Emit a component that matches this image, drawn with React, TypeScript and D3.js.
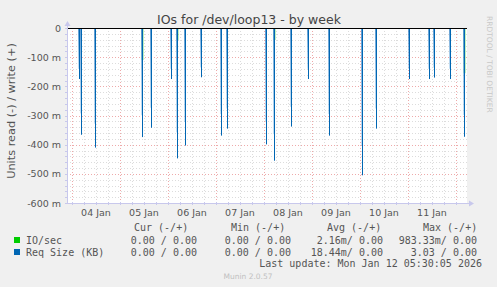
import React from "react";
import * as d3 from "d3";

// Spike times (UTC) and depths in milli-units (read is negative)
const reqTimes = [
  "2026-01-04 03:30", "2026-01-04 04:40", "2026-01-04 11:40",
  "2026-01-05 11:10", "2026-01-05 15:30",
  "2026-01-06 01:40", "2026-01-06 04:40", "2026-01-06 08:40", "2026-01-06 16:40",
  "2026-01-07 02:30", "2026-01-07 05:40",
  "2026-01-08 01:10", "2026-01-08 05:10", "2026-01-08 13:30", "2026-01-08 22:10",
  "2026-01-09 08:30",
  "2026-01-10 01:00", "2026-01-10 08:00",
  "2026-01-11 00:40", "2026-01-11 10:40", "2026-01-11 13:10", "2026-01-11 21:10",
  "2026-01-12 04:10",
];
const reqValues = [
  -175, -366, -410,
  -374, -342,
  -175, -447, -403, -169,
  -369, -345,
  -399, -455, -338, -175,
  -369,
  -505, -345,
  -175, -175, -170, -175,
  -373,
];
const ioTimes = ["2026-01-05 10:50", "2026-01-06 04:30", "2026-01-08 05:00", "2026-01-12 03:50"];
const ioValues = [-110, -41, -41, -155];

const yTicks = [0, -100, -200, -300, -400, -500, -600];
const dayLabels = ["04 Jan", "05 Jan", "06 Jan", "07 Jan", "08 Jan", "09 Jan", "10 Jan", "11 Jan"];
const startTime = "2026-01-03 21:30";
const endTime = "2026-01-12 05:30";

const legendHeaders = ["Cur (-/+)", "Min (-/+)", "Avg (-/+)", "Max (-/+)"];
const legendSeries = ["IO/sec", "Req Size (KB)"];
const legendColors = ["#00cc00", "#0066b3"];
const legendRows = [
  ["0.00 / 0.00", "0.00 / 0.00", "2.16m/ 0.00", "983.33m/ 0.00"],
  ["0.00 / 0.00", "0.00 / 0.00", "18.44m/ 0.00", "3.03 / 0.00"],
];

const parse = d3.utcParse("%Y-%m-%d %H:%M");

export default function App() {
  const W = 497, H = 287;
  const L = 67, R = 467, T = 28, B = 203;
  const x = d3.scaleUtc().domain([parse(startTime)!, parse(endTime)!]).range([L, R]);
  const y = d3.scaleLinear().domain([-600, 0]).range([B, T]);
  const sans = "DejaVu Sans, sans-serif";
  const mono = "DejaVu Sans Mono, monospace";

  const days = d3.utcDay.range(x.domain()[0], x.domain()[1]);
  const sixHours = d3.utcHour.every(6)!.range(x.domain()[0], x.domain()[1]);
  const minorY = d3.range(-600, 1, 20);
  const crisp = (v: number) => Math.round(v) + 0.5;

  return (
    <svg width={W} height={H} style={{ position: "absolute", left: 0, top: 0, background: "#f0f0f0" }}>
      <defs>
        <linearGradient id="band" x1="0" y1="0" x2="0" y2="1">
          <stop offset="0" stopColor="#3f88c8" stopOpacity={0.85} />
          <stop offset="1" stopColor="#8fc0e8" stopOpacity={0.5} />
        </linearGradient>
      </defs>
      <rect x={0} y={0} width={W} height={H} fill="#f0f0f0" />
      <rect x={L} y={T} width={R - L} height={B - T} fill="#ffffff" />
      {/* minor grid */}
      {minorY.map((v) => (
        <line key={"my" + v} x1={L} x2={R} y1={crisp(y(v))} y2={crisp(y(v))} stroke="#dcdcdc" strokeDasharray="1,2" />
      ))}
      {sixHours.map((d, i) => (
        <line key={"mx" + i} x1={crisp(x(d))} x2={crisp(x(d))} y1={T} y2={B} stroke="#dcdcdc" strokeDasharray="1,2" />
      ))}
      {/* major grid */}
      {yTicks.map((v) => (
        <line key={"Y" + v} x1={L} x2={R} y1={crisp(y(v))} y2={crisp(y(v))} stroke="#eeaaaa" strokeDasharray="1,2" />
      ))}
      {days.map((d, i) => (
        <line key={"X" + i} x1={crisp(x(d))} x2={crisp(x(d))} y1={T} y2={B} stroke="#eeaaaa" strokeDasharray="1,2" />
      ))}
      {/* IO/sec series */}
      {ioTimes.map((t, i) => {
        const px = crisp(x(parse(t)!));
        return <line key={"io" + i} x1={px} x2={px} y1={y(0)} y2={y(ioValues[i])} stroke="#00cc00" strokeWidth={1.5} />;
      })}
      {/* Req size series */}
      {reqTimes.map((t, i) => {
        const px = Math.round(x(parse(t)!));
        return (
          <g key={"rq" + i}>
            <rect x={px - 1} y={y(0)} width={2} height={y(reqValues[i] * 0.8) - y(0)} fill="url(#band)" />
            <line x1={px + 0.5} x2={px + 0.5} y1={y(0)} y2={y(reqValues[i])} stroke="#0066b3" strokeWidth={1} />
          </g>
        );
      })}
      {/* zero line */}
      <line x1={L} x2={R} y1={crisp(y(0))} y2={crisp(y(0))} stroke="#000000" />
      {/* axes */}
      <line x1={L + 0.5} x2={L + 0.5} y1={22} y2={B + 1} stroke="#c8c8ec" />
      <line x1={L - 2} x2={R + 4} y1={B + 0.5} y2={B + 0.5} stroke="#c8c8ec" />
      <path d={`M${L - 2.5},${26} L${L + 0.5},${21} L${L + 3.5},${26} Z`} fill="#c8c8ec" />
      <path d={`M${R + 2},${B - 2.5} L${R + 7},${B + 0.5} L${R + 2},${B + 3.5} Z`} fill="#c8c8ec" />
      {minorY.map((v) => (
        <line key={"ty" + v} x1={L - 2} x2={L + 1} y1={crisp(y(v))} y2={crisp(y(v))} stroke="#c8c8ec" />
      ))}
      {sixHours.map((d, i) => (
        <line key={"tx" + i} x1={crisp(x(d))} x2={crisp(x(d))} y1={B - 1} y2={B + 2} stroke="#c8c8ec" />
      ))}
      {/* y tick labels */}
      {yTicks.map((v) => (
        <text key={"yl" + v} x={61} y={y(v) + 3.5} textAnchor="end" fontFamily={sans} fontSize={9.5} fill="#555">
          {v === 0 ? "0" : `${v} m`}
        </text>
      ))}
      {/* x labels at noon */}
      {days.map((d, i) => (
        <text key={"xl" + i} x={x(d3.utcHour.offset(d, 12))} y={216} textAnchor="middle" fontFamily={sans} fontSize={9.5} fill="#555">
          {dayLabels[i]}
        </text>
      ))}
      {/* title */}
      <text x={249} y={23.5} textAnchor="middle" fontFamily={sans} fontSize={12.5} fill="#444">
        IOs for /dev/loop13 - by week
      </text>
      {/* y axis title */}
      <text transform={`translate(14.5,${111}) rotate(-90)`} textAnchor="middle" fontFamily={sans} fontSize={11.3} fill="#555">
        Units read (-) / write (+)
      </text>
      {/* rrdtool label */}
      <text transform="translate(487,16) rotate(90)" fontFamily={sans} fontSize={7.5} fill="#c8c8c8">
        RRDTOOL / TOBI OETIKER
      </text>
      {/* legend */}
      {legendHeaders.map((h, i) => (
        <text key={"lh" + i} x={[134, 231, 327, 423][i]} y={231} fontFamily={mono} fontSize={10} fill="#555">
          {h}
        </text>
      ))}
      {legendSeries.map((s, r) => (
        <g key={"ls" + r}>
          <rect x={14} y={237 + r * 12} width={6} height={6} fill={legendColors[r]} />
          <text x={26} y={244 + r * 12} fontFamily={mono} fontSize={10} fill="#555">{s}</text>
          {legendRows[r].map((v, c) => (
            <text key={c} x={[197, 291, 383, 477][c]} y={244 + r * 12} textAnchor="end" fontFamily={mono} fontSize={10} fill="#555" style={{ whiteSpace: "pre" }}>
              {v}
            </text>
          ))}
        </g>
      ))}
      <text x={482} y={267} textAnchor="end" fontFamily={mono} fontSize={10} fill="#555">
        Last update: Mon Jan 12 05:30:05 2026
      </text>
      <text x={248} y={279} textAnchor="middle" fontFamily={sans} fontSize={7.5} fill="#c0c0c0">
        Munin 2.0.57
      </text>
    </svg>
  );
}
